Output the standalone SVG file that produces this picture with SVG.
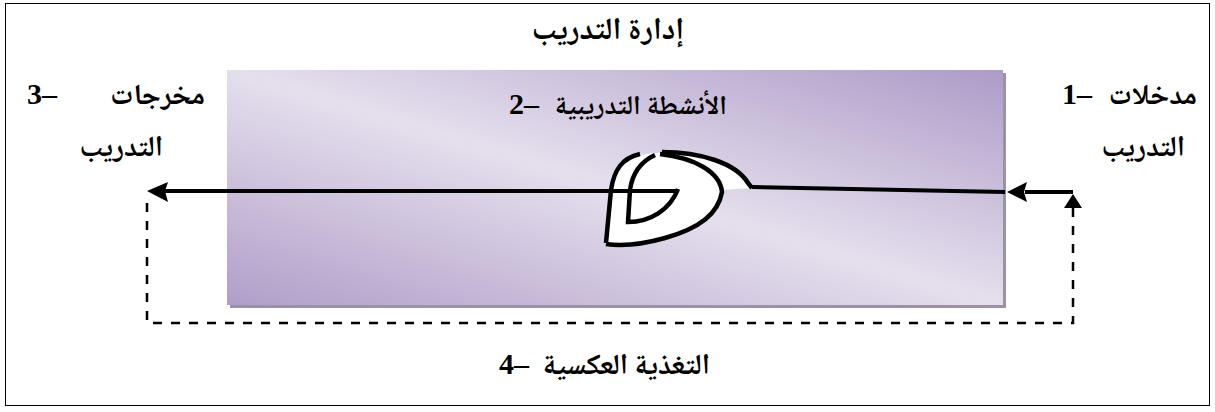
<svg xmlns="http://www.w3.org/2000/svg" width="1215" height="412" viewBox="0 0 1215 412">
<defs>
<linearGradient id="bg" x1="1" y1="0" x2="0" y2="1">
<stop offset="0" stop-color="#ad9bc7"/>
<stop offset="0.5" stop-color="#e5dfed"/>
<stop offset="1" stop-color="#b09ec8"/>
</linearGradient>
<style>
.ar{font-family:"Noto Naskh Arabic","Noto Sans Arabic","DejaVu Sans",serif;font-weight:bold;font-size:29px;fill:#000;text-anchor:start;direction:rtl}
.num{font-family:"Liberation Serif",serif;font-weight:bold;font-size:30px;fill:#000;text-anchor:start;direction:ltr;unicode-bidi:bidi-override}
.ln{fill:none;stroke:#000;stroke-width:4}
.dash{fill:none;stroke:#000;stroke-width:2.5;stroke-dasharray:9 9}
.sym{fill:none;stroke:#000;stroke-width:4.5;stroke-linecap:butt}
</style>
</defs>
<rect x="5.5" y="3.5" width="1204" height="402" fill="#fff" stroke="#000" stroke-width="1"/>
<g id="activities-box">
<rect x="230" y="73" width="776" height="235" fill="#9a93a6"/>
<rect x="227" y="70" width="776" height="235" fill="url(#bg)"/>
</g>
<g id="symbol">
<path d="M607,245 L612,188 C615,168 628,155 655,153 C705,151 738,165 748,183 L752,188 L722,190 C718,210 700,228 665,238 C640,245 620,246 607,245 Z" fill="#fff"/>
<path class="sym" d="M606,243 L611,190 C614,170 622,158 640,154"/>
<path class="sym" d="M662,152 C700,152 736,163 748,183 L752,188"/>
<path class="sym" d="M660,154 C695,158 720,172 722,192 C718,214 700,228 665,238 C640,245 620,246 606,244"/>
<path class="sym" d="M655,155 C640,162 632,175 630,190 L628,222 C650,222 670,210 678,189"/>
</g>
<g id="connectors">
<path class="dash" d="M1073,208 V323 H147 V194"/>
<line class="ln" x1="1073" y1="192" x2="1025" y2="192"/>
<path d="M1007,192 L1027,182 L1024,192 L1027,202 Z"/>
<path d="M1073,194 L1082,208 L1064,208 Z"/>
<path class="ln" d="M752,187 L1005,192"/>
<line class="ln" x1="678" y1="191" x2="164" y2="191"/>
<path d="M147,191 L168,182 L165,191 L168,202 Z"/>
</g>
<g id="title"><text class="ar" x="684" y="39" style="font-size:31px">إدارة التدريب</text></g>
<g id="inputs"><text class="num" x="1062" y="104">1–</text><text class="ar" x="1197" y="104">مدخلات</text><text class="ar" x="1185" y="156">التدريب</text></g>
<g id="activities"><text class="num" x="509" y="114">2–</text><text class="ar" x="727" y="114" style="font-size:27px">الأنشطة التدريبية</text></g>
<g id="outputs"><text class="num" x="27" y="104">3–</text><text class="ar" x="205" y="104">مخرجات</text><text class="ar" x="163" y="156">التدريب</text></g>
<g id="feedback"><text class="num" x="499" y="374">4–</text><text class="ar" x="710" y="374">التغذية العكسية</text></g>
</svg>
